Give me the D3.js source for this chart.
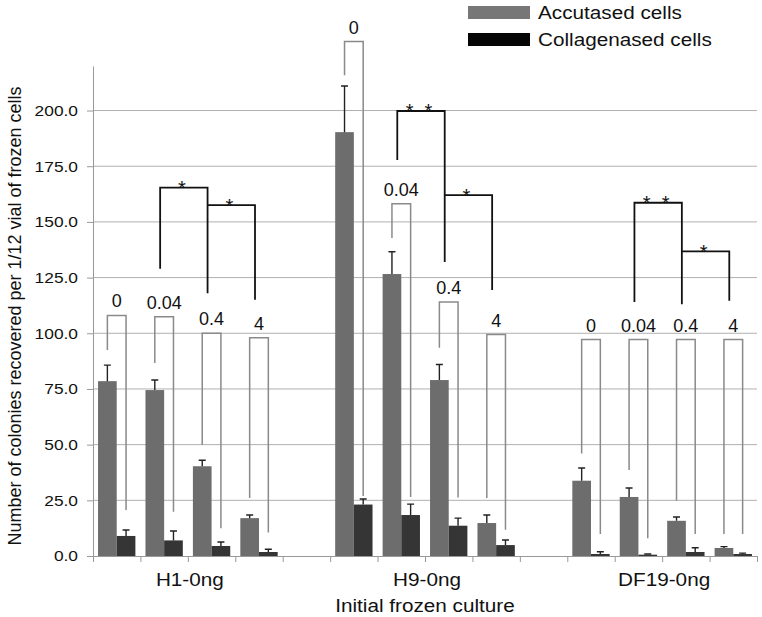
<!DOCTYPE html>
<meta charset="utf-8">
<style>
  body { margin: 0; background: #fff; }
  text { font-family: "Liberation Sans", Arial, sans-serif; fill: #111; }
</style>
<body></body>
<script src="https://d3js.org/d3.v7.min.js"></script>
<script>

const width = 762, height = 617;

// groups and doses (ng)
const groups = ["H1-0ng", "H9-0ng", "DF19-0ng"];
const doses = ["0", "0.04", "0.4", "4"];
const series = ["Accutased cells", "Collagenased cells"];

// bar values + upper error
const accutased      = [78.5, 74.5, 40.3, 17.0, 190.3, 126.6, 79.0, 14.8, 33.8, 26.5, 15.8, 3.6];
const accutasedErr   = [7.2, 4.5, 2.7, 1.4, 20.7, 10.0, 7.0, 3.6, 5.7, 4.0, 1.7, 0.6];
const collagenased   = [9.0, 7.0, 4.5, 1.8, 23.1, 18.4, 13.6, 4.9, 0.9, 0.6, 1.8, 0.9];
const collagenasedErr = [2.7, 4.2, 1.8, 1.2, 2.5, 4.9, 3.4, 2.3, 1.0, 0.3, 1.9, 0.4];

// grey dose brackets (data units): top, end over accutased, end over collagenased
const bracketTop    = [108, 107.4, 100, 98, 231, 158.1, 114, 99.4, 97.2, 97.2, 97.2, 97.2];
const bracketAccEnd = [92.5, 86.6, 49.8, 26, 215.9, 142.8, 93.5, 26, 46, 38.6, 24.8, 9.9];
const bracketColEnd = [20.6, 19.9, 12.5, 10.5, 26.9, 26.5, 26.3, 11.8, 9.9, 8, 9.9, 9.9];

// significance brackets (slot indices)
const sigFrom = [1, 2, 6, 7, 11, 12];
const sigTo   = [2, 3, 7, 8, 12, 13];
const sigTop  = [165.4, 157.5, 199.8, 162, 158.6, 136.8];
const sigFromEnd = [129, 157.5, 177.8, 162, 114, 136.8];
const sigToEnd   = [118, 115, 132, 119.4, 113, 114.6];
const sigMark = ["*", "*", "*  *", "*", "*  *", "*"];

const yTicks = d3.range(0, 201, 25);

const slotOf = i => Math.floor(i / 4) * 5 + i % 4;
const sx = 1.12; // text looks horizontally stretched

const svg = d3.select("body").append("svg")
    .attr("width", width)
    .attr("height", height);

const x = d3.scaleBand().domain(d3.range(14)).range([93, 757]);
const xl = d3.scaleLinear().domain([0, 14]).range([93, 757]);
const xs = d3.scaleBand().domain([0, 1]).range([0, x.bandwidth()]).paddingOuter(0.27);
const y = d3.scaleLinear().domain([0, 220]).range([556, 66]);

// gridlines
svg.append("g")
    .attr("stroke", "#b0b0b0")
  .selectAll("line")
  .data(yTicks.slice(1))
  .join("line")
    .attr("x1", 93).attr("x2", 757)
    .attr("y1", d => y(d)).attr("y2", d => y(d));

// y axis
const yAxis = svg.append("g")
    .attr("transform", "translate(93,0)")
    .call(d3.axisLeft(y).tickValues(yTicks).tickSize(6).tickSizeOuter(0).tickFormat(d3.format(".1f")));
yAxis.select(".domain").attr("stroke", "#999");
yAxis.selectAll(".tick line").attr("stroke", "#999");
yAxis.selectAll(".tick text")
    .attr("font-size", 15.5)
    .attr("font-family", "Liberation Sans, Arial, sans-serif")
    .attr("fill", "#111")
    .attr("x", -15 / sx)
    .attr("transform", `scale(${sx},1)`);

// x axis
const xAxis = svg.append("g")
    .attr("transform", "translate(0,556)")
    .call(d3.axisBottom(xl).tickValues(d3.range(15)).tickSize(6).tickSizeOuter(0).tickFormat(""));
xAxis.select(".domain").attr("stroke", "#999");
xAxis.selectAll(".tick line").attr("stroke", "#999");

// bars
const idx = d3.range(accutased.length);
const bars = svg.append("g");
bars.selectAll("rect.acc")
  .data(idx)
  .join("rect")
    .attr("x", i => x(slotOf(i)) + xs(0))
    .attr("width", xs.bandwidth())
    .attr("y", i => y(accutased[i]))
    .attr("height", i => y(0) - y(accutased[i]))
    .attr("fill", "#6d6d6d");
bars.selectAll("rect.col")
  .data(idx)
  .join("rect")
    .attr("x", i => x(slotOf(i)) + xs(1))
    .attr("width", xs.bandwidth())
    .attr("y", i => y(collagenased[i]))
    .attr("height", i => y(0) - y(collagenased[i]))
    .attr("fill", "#353535");

// error bars (upper only)
const errs = [];
idx.forEach(i => {
  errs.push({cx: x(slotOf(i)) + xs(0) + xs.bandwidth() / 2, v: accutased[i], e: accutasedErr[i]});
  errs.push({cx: x(slotOf(i)) + xs(1) + xs.bandwidth() / 2, v: collagenased[i], e: collagenasedErr[i]});
});
svg.append("g")
    .attr("fill", "none")
    .attr("stroke", "#222")
    .attr("stroke-width", 1.4)
  .selectAll("path")
  .data(errs)
  .join("path")
    .attr("d", d => `M${d.cx},${y(d.v)}V${y(d.v + d.e)}M${d.cx - 3.5},${y(d.v + d.e)}H${d.cx + 3.5}`);

// dose brackets
const br = svg.append("g");
br.append("g")
    .attr("fill", "none")
    .attr("stroke", "#8a8a8a")
    .attr("stroke-width", 1.5)
  .selectAll("path")
  .data(idx)
  .join("path")
    .attr("d", i => {
      const a = x(slotOf(i)) + xs(0) + xs.bandwidth() / 2;
      const b = x(slotOf(i)) + xs(1) + xs.bandwidth() / 2;
      return `M${a},${y(bracketAccEnd[i])}V${y(bracketTop[i])}H${b}V${y(bracketColEnd[i])}`;
    });
br.append("g")
  .selectAll("text")
  .data(idx)
  .join("text")
    .attr("transform", i => `translate(${x(slotOf(i)) + x.bandwidth() / 2},${y(bracketTop[i]) - 8})`)
    .attr("text-anchor", "middle")
    .attr("font-family", "DejaVu Sans, Verdana, sans-serif")
    .attr("font-size", 18)
    .text(i => doses[i % 4]);

// significance brackets
const sig = svg.append("g");
const sidx = d3.range(sigFrom.length);
sig.append("g")
    .attr("fill", "none")
    .attr("stroke", "#111")
    .attr("stroke-width", 1.8)
  .selectAll("path")
  .data(sidx)
  .join("path")
    .attr("d", i => {
      const a = x(sigFrom[i]) + x.bandwidth() / 2 - 4;
      const b = x(sigTo[i]) + x.bandwidth() / 2 - 4;
      return `M${a},${y(sigFromEnd[i])}V${y(sigTop[i])}H${b}V${y(sigToEnd[i])}`;
    });
sig.append("g")
  .selectAll("text")
  .data(sidx)
  .join("text")
    .attr("x", i => (x(sigFrom[i]) + x(sigTo[i])) / 2 + x.bandwidth() / 2 - 6)
    .attr("y", i => y(sigTop[i]) + 7.5)
    .attr("text-anchor", "middle")
    .attr("font-size", 20)
    .attr("xml:space", "preserve")
    .style("white-space", "pre")
    .text(i => sigMark[i]);

// category labels
svg.append("g")
  .selectAll("text")
  .data(groups)
  .join("text")
    .attr("transform", (d, g) => `translate(${xl(g * 5 + 2) + 2},586) scale(${sx},1)`)
    .attr("text-anchor", "middle")
    .attr("font-size", 18.5)
    .text(d => d);

// axis titles
svg.append("text")
    .attr("transform", `translate(425,612) scale(${sx},1)`)
    .attr("text-anchor", "middle")
    .attr("font-size", 18.5)
    .text("Initial frozen culture");

svg.append("text")
    .attr("transform", "translate(21,316) rotate(-90)")
    .attr("text-anchor", "middle")
    .attr("font-size", 18)
    .text("Number of colonies recovered per 1/12 vial of frozen cells");

// legend
const legColors = ["#777777", "#050505"];
const leg = svg.append("g")
  .selectAll("g")
  .data(series)
  .join("g")
    .attr("transform", (d, i) => `translate(468,${6 + i * 27})`);
leg.append("rect")
    .attr("width", 62)
    .attr("height", 13)
    .attr("fill", (d, i) => legColors[i]);
leg.append("text")
    .attr("transform", `translate(70,13) scale(${sx},1)`)
    .attr("font-size", 18.5)
    .text(d => d);

</script>
